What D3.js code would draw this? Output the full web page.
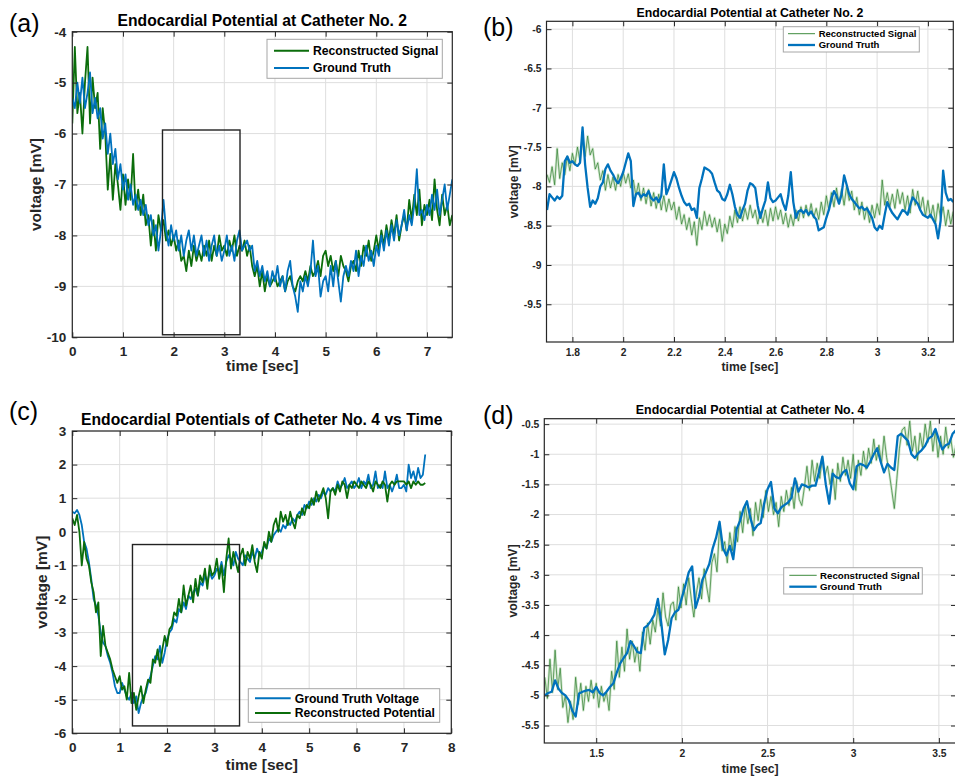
<!DOCTYPE html>
<html>
<head>
<meta charset="utf-8">
<script src="https://cdn.jsdelivr.net/npm/d3@7"></script>
<style>
  body { margin: 0; background: #fff; }
  svg { display: block; font-family: "Liberation Sans", Arial, sans-serif; }
  .tick text { font-weight: bold; fill: #262626; }
</style>
</head>
<body>
<div id="chart"></div>
<script>
// ---- data ----
// panel (a): catheter 2, full record, sampled every 0.05 s from t = 0
var tA0 = 0, dtA = 0.05;
var gtA = [
  -5.3,-5.5,-5.0,-5.4,-4.9,-5.5,-5.2,-4.8,-5.6,-5.3,
  -5.7,-5.5,-6.1,-5.8,-6.4,-6.0,-6.6,-6.3,-6.9,-6.6,
  -7.1,-6.8,-7.3,-7.0,-7.4,-7.2,-7.5,-7.3,-7.6,-7.4,
  -7.8,-7.6,-8.0,-7.8,-8.3,-7.9,-7.3,-7.9,-8.2,-7.8,
  -8.1,-7.9,-8.3,-8.0,-8.4,-8.1,-7.9,-8.3,-8.0,-8.4,
  -8.2,-8.0,-8.4,-8.1,-8.5,-8.2,-8.0,-8.4,-8.2,-8.5,
  -8.3,-8.0,-8.4,-8.2,-8.5,-8.1,-7.9,-8.3,-8.2,-8.1,
  -8.3,-8.2,-8.7,-8.5,-8.8,-8.6,-8.9,-8.7,-9.0,-8.7,
  -8.9,-8.6,-9.0,-8.8,-9.1,-8.7,-8.5,-9.0,-9.2,-9.5,
  -8.9,-9.1,-8.8,-9.0,-8.7,-8.1,-8.8,-8.6,-9.2,-8.9,
  -8.8,-9.1,-8.6,-9.0,-8.5,-8.9,-9.3,-8.8,-8.6,-8.8,
  -8.5,-8.7,-8.3,-8.8,-8.4,-8.6,-8.2,-8.5,-8.3,-8.6,
  -8.2,-8.4,-8.0,-8.3,-7.9,-8.2,-7.8,-8.1,-7.7,-8.0,
  -7.8,-7.5,-7.9,-7.6,-7.8,-7.4,-6.7,-7.6,-7.5,-7.7,
  -7.4,-7.6,-7.2,-7.5,-7.1,-7.6,-7.3,-7.0,-7.5,-7.2,
  -6.9
];
var recA = [
  -5.8,-4.3,-5.6,-5.2,-6.0,-5.0,-4.3,-5.8,-4.9,-5.5,
  -5.2,-6.3,-5.5,-6.0,-7.1,-6.4,-7.3,-6.6,-7.0,-7.5,
  -6.8,-7.4,-6.9,-7.3,-6.4,-7.5,-7.1,-7.6,-7.2,-7.8,
  -7.6,-8.2,-7.7,-8.3,-7.6,-7.9,-7.7,-8.1,-7.9,-8.2,
  -8.0,-8.3,-8.1,-8.5,-8.4,-8.7,-8.3,-8.6,-8.2,-8.5,
  -8.3,-8.5,-8.2,-8.4,-8.1,-8.5,-8.2,-8.4,-8.0,-8.3,
  -8.2,-8.4,-8.1,-8.3,-8.0,-8.4,-8.2,-8.3,-8.1,-8.4,
  -8.2,-8.6,-8.8,-8.6,-9.0,-8.7,-9.1,-8.8,-9.0,-8.9,
  -8.8,-9.0,-8.9,-8.8,-9.1,-8.9,-8.8,-9.0,-9.1,-8.9,
  -8.8,-8.9,-8.7,-8.9,-8.6,-8.8,-8.7,-8.5,-8.8,-8.4,
  -8.3,-8.6,-8.4,-8.7,-8.5,-8.8,-8.4,-8.6,-8.7,-8.9,
  -8.6,-8.5,-8.7,-8.3,-8.6,-8.2,-8.4,-8.1,-8.5,-8.3,
  -8.0,-8.3,-7.9,-8.2,-7.8,-8.1,-7.7,-8.0,-7.6,-8.1,
  -7.8,-7.6,-7.9,-7.3,-7.7,-7.2,-7.6,-7.1,-7.8,-7.4,
  -7.6,-7.3,-7.7,-6.9,-7.5,-7.8,-7.2,-7.6,-7.4,-7.8,
  -7.6
];

// panel (b): zoom of catheter 2, every 0.01 s from t = 1.70
var tB0 = 1.70, dtB = 0.01;
var gtB = [
  -8.30,-8.10,-8.14,-8.18,-8.13,-8.16,-8.12,-7.68,-7.62,-7.70,
  -7.68,-7.72,-7.74,-7.70,-7.25,-7.72,-8.02,-8.26,-8.18,-8.22,
  -8.15,-8.00,-7.95,-7.78,-7.72,-7.80,-7.85,-7.92,-7.96,-7.90,
  -7.82,-7.70,-7.58,-7.68,-8.25,-8.10,-8.08,-8.14,-8.10,-8.12,
  -8.06,-8.15,-8.18,-8.14,-8.20,-8.12,-7.72,-8.10,-8.02,-7.92,
  -7.82,-7.90,-8.02,-8.12,-8.20,-8.24,-8.22,-8.30,-8.28,-8.40,
  -8.02,-7.90,-7.76,-7.78,-7.80,-7.84,-7.95,-8.05,-8.08,-8.16,
  -8.18,-8.10,-7.98,-8.10,-8.26,-8.36,-8.40,-8.30,-8.22,-8.05,
  -7.96,-7.98,-8.02,-8.25,-8.40,-8.28,-8.18,-7.95,-8.15,-8.20,
  -8.18,-8.14,-8.10,-8.22,-8.30,-8.12,-7.82,-8.20,-8.40,-8.32,
  -8.30,-8.34,-8.30,-8.36,-8.32,-8.38,-8.42,-8.56,-8.54,-8.52,
  -8.40,-8.30,-8.16,-8.06,-8.12,-8.22,-8.10,-7.86,-7.98,-8.10,
  -8.16,-8.20,-8.24,-8.28,-8.26,-8.30,-8.28,-8.34,-8.40,-8.52,
  -8.56,-8.50,-8.54,-8.36,-8.20,-8.28,-8.34,-8.38,-8.42,-8.36,
  -8.30,-8.32,-8.36,-8.24,-8.14,-8.18,-8.22,-8.30,-8.36,-8.38,
  -8.40,-8.36,-8.42,-8.48,-8.66,-8.44,-7.80,-8.08,-8.18,-8.16,
  -8.20
];
var recB = [
  -7.85,-7.95,-7.75,-7.98,-7.52,-7.90,-7.70,-7.85,-7.62,-7.80,
  -7.58,-7.72,-7.50,-7.68,-7.40,-7.62,-7.36,-7.60,-7.52,-7.78,
  -7.70,-7.92,-7.80,-8.05,-7.85,-8.02,-7.88,-8.05,-7.85,-8.00,
  -7.82,-7.96,-7.84,-8.02,-7.92,-8.12,-7.96,-8.18,-8.02,-8.22,
  -8.04,-8.25,-8.08,-8.28,-8.10,-8.30,-8.12,-8.32,-8.16,-8.30,
  -8.20,-8.42,-8.26,-8.48,-8.36,-8.55,-8.40,-8.62,-8.45,-8.75,
  -8.40,-8.55,-8.32,-8.50,-8.36,-8.52,-8.40,-8.58,-8.42,-8.70,
  -8.48,-8.60,-8.38,-8.52,-8.30,-8.46,-8.26,-8.44,-8.28,-8.42,
  -8.24,-8.40,-8.30,-8.48,-8.32,-8.46,-8.30,-8.50,-8.28,-8.44,
  -8.26,-8.42,-8.30,-8.48,-8.34,-8.52,-8.36,-8.50,-8.30,-8.44,
  -8.26,-8.40,-8.24,-8.38,-8.22,-8.40,-8.28,-8.42,-8.20,-8.36,
  -8.12,-8.30,-8.08,-8.26,-8.02,-8.22,-8.04,-8.24,-8.00,-8.18,
  -8.06,-8.30,-8.14,-8.36,-8.20,-8.42,-8.26,-8.46,-8.24,-8.40,
  -8.22,-8.36,-7.92,-8.24,-8.08,-8.26,-8.10,-8.28,-8.04,-8.22,
  -8.08,-8.30,-8.12,-8.34,-8.04,-8.24,-8.06,-8.30,-8.14,-8.38,
  -8.18,-8.40,-8.24,-8.46,-8.22,-8.40,-8.26,-8.50,-8.30,-8.48,
  -8.32
];

// panel (c): catheter 4, full record, every 0.05 s from t = 0
var tC0 = 0, dtC = 0.05;
var gtC = [
  0.6,0.55,0.65,0.5,0.2,-0.3,-0.5,-0.9,-1.4,-2.0,
  -2.2,-2.5,-3.0,-3.3,-3.4,-3.7,-3.9,-4.2,-4.6,-4.8,
  -4.8,-4.5,-4.7,-4.9,-5.0,-4.8,-5.1,-4.9,-5.4,-5.1,
  -4.9,-4.8,-4.5,-4.3,-4.0,-3.7,-3.8,-3.4,-3.9,-3.6,
  -3.2,-3.0,-2.9,-2.6,-2.7,-2.3,-2.4,-2.1,-2.3,-1.9,
  -2.0,-1.8,-1.7,-1.9,-1.5,-1.6,-1.3,-1.5,-1.2,-1.4,
  -1.3,-1.1,-1.2,-0.9,-1.3,-0.9,-0.7,-0.8,-1.0,-0.6,
  -0.8,-0.9,-1.0,-0.7,-0.8,-0.9,-0.6,-0.8,-0.5,-0.7,
  -0.6,-0.4,-0.5,-0.2,-0.3,-0.1,0.0,0.1,0.0,0.2,
  0.1,0.3,0.2,0.4,0.3,0.5,0.6,0.5,0.8,0.7,
  0.9,0.8,1.0,0.9,1.1,1.0,1.2,1.1,1.3,1.2,
  1.3,1.2,1.5,1.3,1.4,1.6,1.3,1.4,1.5,1.3,
  1.4,1.6,1.3,1.5,1.4,1.7,1.3,1.4,1.8,1.3,
  1.4,1.3,1.8,1.3,1.4,1.2,1.4,1.7,1.3,1.3,
  1.4,1.2,2.0,1.6,1.8,1.5,1.9,1.6,1.7,2.3
];
var recC = [
  0.4,0.2,0.5,0.0,-1.0,-0.3,-0.8,-1.0,-1.5,-1.8,
  -2.4,-2.1,-3.7,-2.8,-3.4,-3.6,-3.8,-4.1,-4.3,-4.5,
  -4.3,-4.7,-4.6,-5.0,-4.2,-5.1,-4.8,-5.3,-4.9,-4.6,
  -5.1,-4.7,-4.4,-4.5,-3.8,-3.9,-3.5,-4.0,-3.5,-3.1,
  -3.4,-2.9,-2.8,-2.4,-2.5,-2.0,-2.4,-1.6,-2.2,-1.9,
  -1.6,-2.1,-1.4,-1.9,-1.3,-1.5,-1.1,-1.7,-1.0,-1.3,
  -1.2,-0.8,-1.4,-1.0,-1.8,-0.8,-0.2,-1.1,-0.6,-0.9,
  -1.2,-0.7,-0.5,-1.0,-0.6,-0.8,-0.4,-0.9,-1.2,-0.6,
  -0.8,-0.3,-0.5,0.0,-0.3,0.2,0.4,0.0,0.6,0.3,
  0.5,0.2,0.6,0.3,0.1,0.5,0.4,0.7,0.5,0.8,
  0.7,1.0,0.8,1.2,0.9,1.1,1.3,1.0,0.4,1.2,
  1.3,1.1,1.4,1.2,1.5,1.4,1.0,1.4,1.3,1.5,
  1.4,1.3,1.5,1.4,1.3,1.5,1.4,1.2,1.5,1.4,
  1.3,1.5,1.4,0.9,1.4,1.5,1.4,1.5,1.5,1.5,
  1.5,1.4,1.5,1.3,1.5,1.4,1.5,1.4,1.4,1.45
];

// panel (d): zoom of catheter 4
var tDgt0 = 1.2, dtDgt = 0.02;   // ground truth every 0.02 s
var gtD = [
  -5.00,-4.96,-4.94,-4.75,-4.89,-4.96,-5.00,-5.08,-5.25,-5.35,
  -4.97,-4.94,-4.92,-4.91,-4.95,-4.86,-4.96,-5.00,-4.94,-4.86,
  -4.80,-4.62,-4.47,-4.38,-4.30,-4.10,-4.18,-4.28,-4.30,-3.88,
  -3.84,-3.76,-3.66,-3.40,-3.80,-4.32,-4.08,-3.72,-3.62,-3.58,
  -3.38,-3.18,-2.96,-2.86,-3.55,-3.36,-3.08,-2.96,-2.82,-2.56,
  -2.38,-2.12,-2.56,-2.68,-2.52,-2.74,-2.24,-2.10,-1.90,-1.78,
  -2.06,-2.26,-2.18,-2.14,-1.82,-1.58,-1.46,-1.90,-1.98,-1.88,
  -1.84,-1.80,-1.72,-1.40,-1.62,-1.50,-1.52,-1.55,-1.52,-1.52,
  -1.30,-1.04,-1.50,-1.82,-1.32,-1.38,-1.40,-1.30,-1.26,-1.48,
  -1.58,-1.20,-1.16,-1.18,-1.22,-1.12,-1.00,-0.90,-1.12,-1.30,
  -1.16,-1.22,-1.26,-0.70,-0.66,-0.72,-0.78,-1.00,-1.06,-0.98,
  -0.93,-0.86,-0.74,-0.70,-0.58,-0.76,-0.92,-0.85,-0.82,-0.66,
  -0.60
];
var tDrec0 = 1.2, dtDrec = 0.015; // reconstruction every 0.015 s
var recD = [
  -4.70,-5.05,-4.40,-4.95,-4.25,-4.90,-4.55,-5.20,-5.00,-5.45,
  -5.10,-5.40,-4.70,-5.15,-4.80,-5.25,-4.85,-5.10,-4.75,-5.05,
  -4.80,-5.20,-4.85,-5.10,-4.95,-5.25,-4.60,-4.90,-4.10,-4.70,
  -4.20,-4.60,-3.90,-4.40,-4.10,-4.45,-4.20,-4.60,-3.95,-4.25,
  -3.80,-4.15,-3.75,-3.95,-3.55,-3.85,-3.30,-3.70,-3.85,-3.50,
  -3.45,-3.75,-3.20,-3.55,-3.15,-3.50,-3.05,-3.40,-3.70,-3.30,
  -3.05,-3.40,-2.90,-3.20,-3.45,-2.80,-2.65,-2.95,-2.20,-2.60,
  -2.45,-2.80,-2.30,-2.60,-2.20,-2.45,-1.95,-2.30,-1.85,-2.15,
  -1.90,-2.35,-1.80,-2.10,-1.75,-2.05,-1.60,-1.95,-1.70,-2.00,
  -1.80,-2.20,-1.70,-1.95,-1.60,-1.85,-1.55,-1.90,-1.45,-1.75,
  -1.85,-1.55,-1.20,-1.60,-1.10,-1.45,-1.15,-1.40,-1.05,-1.35,
  -1.20,-1.50,-1.25,-1.75,-1.15,-1.45,-1.05,-1.35,-1.10,-1.40,
  -1.00,-1.60,-1.10,-1.35,-0.95,-1.25,-0.90,-1.15,-0.75,-1.10,
  -0.85,-1.15,-0.70,-1.05,-1.30,-1.60,-1.90,-1.40,-0.90,-0.60,
  -0.55,-0.85,-0.45,-0.95,-0.70,-1.10,-0.65,-0.90,-0.50,-0.80,
  -0.45,-0.95,-0.60,-1.05,-0.70,-1.00,-0.55,-0.90,-0.75,-1.05,
  -0.85
];

// tick values
var xTicksA = [0, 1, 2, 3, 4, 5, 6, 7];
var yTicksA = [-10, -9, -8, -7, -6, -5, -4];
var xTicksB = [1.8, 2, 2.2, 2.4, 2.6, 2.8, 3, 3.2];
var yTicksB = [-9.5, -9, -8.5, -8, -7.5, -7, -6.5, -6];
var xTicksC = [0, 1, 2, 3, 4, 5, 6, 7, 8];
var yTicksC = [-6, -5, -4, -3, -2, -1, 0, 1, 2, 3];
var xTicksD = [1.5, 2, 2.5, 3, 3.5];
var yTicksD = [-5.5, -5, -4.5, -4, -3.5, -3, -2.5, -2, -1.5, -1, -0.5];

var GREEN = "#0b6d0b";
var GREEN_THIN = "#2f7f2f";
var BLUE = "#0072bd";
var AXIS = "#262626";

// turn a sampled array into points
function series(t0, dt, vals) {
  return vals.map(function(v, i) { return { t: t0 + i * dt, v: v }; });
}

var svg = d3.select("#chart").append("svg")
  .attr("width", 955)
  .attr("height", 776);

var fmt = function(d) { return String(+d.toFixed(2)); };

function drawPanel(p) {
  var x = d3.scaleLinear().domain(p.xDom).range([p.left, p.right]);
  var y = d3.scaleLinear().domain(p.yDom).range([p.bottom, p.top]);
  var g = svg.append("g");

  // grid
  g.selectAll(".gx").data(p.xTicks).enter().append("line")
    .attr("x1", d => x(d)).attr("x2", d => x(d))
    .attr("y1", p.top).attr("y2", p.bottom)
    .attr("stroke", "#dedede").attr("stroke-width", 1);
  g.selectAll(".gy").data(p.yTicks).enter().append("line")
    .attr("x1", p.left).attr("x2", p.right)
    .attr("y1", d => y(d)).attr("y2", d => y(d))
    .attr("stroke", "#dedede").attr("stroke-width", 1);

  // clip for the signals
  var clipId = "clip" + p.id;
  svg.append("clipPath").attr("id", clipId).append("rect")
    .attr("x", p.left).attr("y", p.top)
    .attr("width", p.right - p.left).attr("height", p.bottom - p.top);

  var line = d3.line().x(d => x(d.t)).y(d => y(d.v));
  var lines = g.append("g").attr("clip-path", "url(#" + clipId + ")");
  p.lines.forEach(function(s) {
    if (s.halo) {
      lines.append("path").datum(s.data)
        .attr("d", line).attr("fill", "none")
        .attr("stroke", "#a9d2a3").attr("stroke-width", s.halo)
        .attr("stroke-opacity", 0.5).attr("stroke-linejoin", "round");
    }
    lines.append("path").datum(s.data)
      .attr("d", line).attr("fill", "none")
      .attr("stroke", s.color).attr("stroke-width", s.width)
      .attr("stroke-linejoin", "round");
  });

  // zoom box
  if (p.box) {
    g.append("rect")
      .attr("x", x(p.box[0])).attr("y", y(p.box[3]))
      .attr("width", x(p.box[1]) - x(p.box[0]))
      .attr("height", y(p.box[2]) - y(p.box[3]))
      .attr("fill", "none").attr("stroke", "#222").attr("stroke-width", 1.4);
  }

  // axes, ticks pointing inward on all four sides
  var tl = 5;
  var bottom = g.append("g").attr("transform", `translate(0,${p.bottom})`)
    .call(d3.axisBottom(x).tickValues(p.xTicks).tickSize(-tl).tickPadding(p.xPad).tickFormat(fmt));
  var top = g.append("g").attr("transform", `translate(0,${p.top})`)
    .call(d3.axisTop(x).tickValues(p.xTicks).tickSize(-tl).tickFormat(""));
  var left = g.append("g").attr("transform", `translate(${p.left},0)`)
    .call(d3.axisLeft(y).tickValues(p.yTicks).tickSize(-tl).tickPadding(p.yPad).tickFormat(fmt));
  var right = g.append("g").attr("transform", `translate(${p.right},0)`)
    .call(d3.axisRight(y).tickValues(p.yTicks).tickSize(-tl).tickFormat(""));
  [bottom, top, left, right].forEach(function(a) {
    a.select(".domain").remove();
    a.selectAll(".tick line").attr("stroke", AXIS).attr("stroke-width", 1);
    a.selectAll(".tick text").style("font-size", p.tickFont + "px");
  });
  g.append("rect")
    .attr("x", p.left).attr("y", p.top)
    .attr("width", p.right - p.left).attr("height", p.bottom - p.top)
    .attr("fill", "none").attr("stroke", AXIS).attr("stroke-width", 1.2);

  // title and labels
  g.append("text")
    .attr("x", (p.left + p.right) / 2).attr("y", p.titleY)
    .attr("text-anchor", "middle").attr("font-weight", "bold")
    .attr("font-size", p.titleFont).attr("fill", "#000")
    .text(p.title);
  g.append("text")
    .attr("x", (p.left + p.right) / 2).attr("y", p.xLabelY)
    .attr("text-anchor", "middle").attr("font-weight", "bold")
    .attr("font-size", p.labelFont).attr("fill", AXIS)
    .text("time [sec]");
  g.append("text")
    .attr("transform", `translate(${p.yLabelX},${(p.top + p.bottom) / 2}) rotate(-90)`)
    .attr("text-anchor", "middle").attr("font-weight", "bold")
    .attr("font-size", p.labelFont).attr("fill", AXIS)
    .text("voltage [mV]");
  g.append("text")
    .attr("x", p.tag[0]).attr("y", p.tag[1])
    .attr("font-size", 25).attr("fill", "#000")
    .text(p.tag[2]);

  // legend
  var L = p.legend;
  g.append("rect")
    .attr("x", L.x0).attr("y", L.y0)
    .attr("width", L.x1 - L.x0).attr("height", L.y1 - L.y0)
    .attr("fill", "#fff").attr("stroke", "#a6a6a6").attr("stroke-width", 1);
  L.items.forEach(function(it, i) {
    var yy = L.rows[i];
    g.append("line")
      .attr("x1", L.lx0).attr("x2", L.lx1).attr("y1", yy).attr("y2", yy)
      .attr("stroke", it.color).attr("stroke-width", it.width);
    g.append("text")
      .attr("x", L.tx).attr("y", yy).attr("dy", "0.35em")
      .attr("font-size", L.font).attr("font-weight", "bold").attr("fill", "#000")
      .text(it.label);
  });
}

drawPanel({
  id: "a", left: 72.3, right: 452.3, top: 31.7, bottom: 337.3,
  xDom: [0, 7.5], yDom: [-10, -4], xTicks: xTicksA, yTicks: yTicksA,
  tickFont: 13.5, xPad: 9, yPad: 6,
  title: "Endocardial Potential at Catheter No. 2", titleY: 26, titleFont: 15.7,
  xLabelY: 371, yLabelX: 40.5, labelFont: 15.5, tag: [9, 32, "(a)"],
  box: [1.78, 3.31, -9.95, -5.93],
  lines: [
    { data: series(tA0, dtA, recA), color: GREEN, width: 1.8 },
    { data: series(tA0, dtA, gtA), color: BLUE, width: 1.8 }
  ],
  legend: { x0: 267, x1: 442.3, y0: 39.3, y1: 78.3, rows: [50.7, 68], lx0: 274, lx1: 309, tx: 313, font: 12.2,
    items: [{ label: "Reconstructed Signal", color: GREEN, width: 2 },
            { label: "Ground Truth", color: BLUE, width: 2 }] }
});

drawPanel({
  id: "b", left: 546.5, right: 953.3, top: 21.3, bottom: 342,
  xDom: [1.698, 3.3], yDom: [-9.98, -5.9], xTicks: xTicksB, yTicks: yTicksB,
  tickFont: 10.3, xPad: 7, yPad: 5,
  title: "Endocardial Potential at Catheter No. 2", titleY: 16.5, titleFont: 12.3,
  xLabelY: 371, yLabelX: 518, labelFont: 12.2, tag: [483, 36, "(b)"],
  lines: [
    { data: series(tB0, dtB, recB), color: GREEN_THIN, width: 0.7, halo: 2.6 },
    { data: series(tB0, dtB, gtB), color: BLUE, width: 2.3 }
  ],
  legend: { x0: 783.3, x1: 919.3, y0: 26.7, y1: 52, rows: [33.7, 45], lx0: 788, lx1: 815, tx: 818.7, font: 9.5,
    items: [{ label: "Reconstructed Signal", color: GREEN, width: 0.8 },
            { label: "Ground Truth", color: BLUE, width: 2.3 }] }
});

drawPanel({
  id: "c", left: 72.3, right: 451.3, top: 431, bottom: 733.3,
  xDom: [0, 8], yDom: [-6, 3], xTicks: xTicksC, yTicks: yTicksC,
  tickFont: 13.5, xPad: 9, yPad: 6,
  title: "Endocardial Potentials of Catheter No. 4 vs Time", titleY: 425, titleFont: 15.7,
  xLabelY: 770, yLabelX: 46.5, labelFont: 15.5, tag: [9, 420, "(c)"],
  box: [1.27, 3.53, -5.78, -0.38],
  lines: [
    { data: series(tC0, dtC, gtC), color: BLUE, width: 1.8 },
    { data: series(tC0, dtC, recC), color: GREEN, width: 1.8 }
  ],
  legend: { x0: 248.3, x1: 439.7, y0: 688.7, y1: 722.3, rows: [698.3, 713], lx0: 255, lx1: 290.7, tx: 294.7, font: 12.2,
    items: [{ label: "Ground Truth Voltage", color: BLUE, width: 2 },
            { label: "Reconstructed Potential", color: GREEN, width: 2 }] }
});

drawPanel({
  id: "d", left: 544.3, right: 956, top: 418.7, bottom: 743,
  xDom: [1.197, 3.6], yDom: [-5.79, -0.41], xTicks: xTicksD, yTicks: yTicksD,
  tickFont: 10.3, xPad: 7, yPad: 5,
  title: "Endocardial Potential at Catheter No. 4", titleY: 414, titleFont: 12.4,
  xLabelY: 773, yLabelX: 517, labelFont: 12.2, tag: [483, 424, "(d)"],
  lines: [
    { data: series(tDrec0, dtDrec, recD), color: GREEN_THIN, width: 0.7, halo: 2.6 },
    { data: series(tDgt0, dtDgt, gtD), color: BLUE, width: 2.3 }
  ],
  legend: { x0: 783.7, x1: 922.3, y0: 567.7, y1: 594, rows: [575.3, 586.7], lx0: 789.3, lx1: 816.7, tx: 820, font: 9.7,
    items: [{ label: "Reconstructed Signal", color: GREEN, width: 0.8 },
            { label: "Ground Truth", color: BLUE, width: 2.3 }] }
});
</script>
</body>
</html>
